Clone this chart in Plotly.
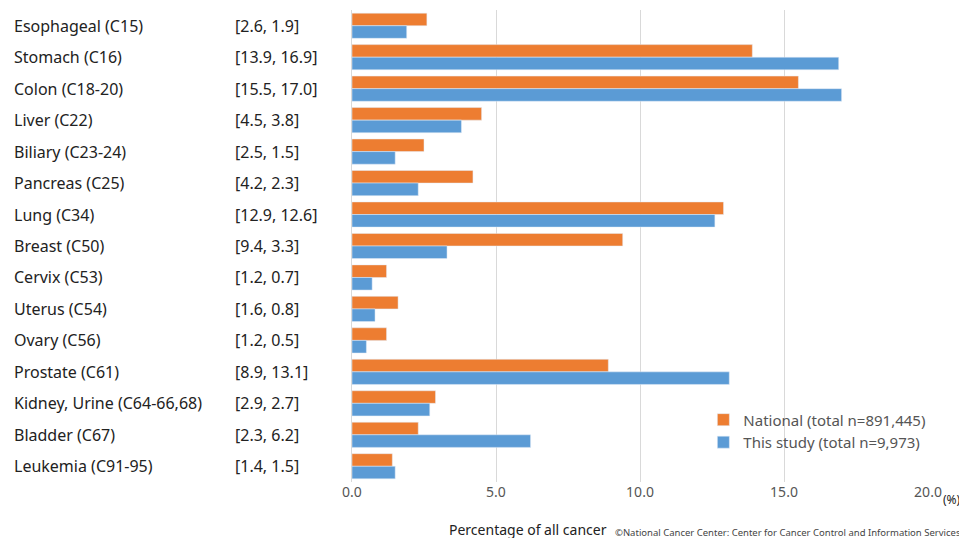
import plotly.graph_objects as go

sites = ["Esophageal (C15)", "Stomach (C16)", "Colon (C18-20)", "Liver (C22)",
         "Biliary (C23-24)", "Pancreas (C25)", "Lung (C34)", "Breast (C50)",
         "Cervix (C53)", "Uterus (C54)", "Ovary (C56)", "Prostate (C61)",
         "Kidney, Urine (C64-66,68)", "Bladder (C67)", "Leukemia (C91-95)"]
national = [2.6, 13.9, 15.5, 4.5, 2.5, 4.2, 12.9, 9.4, 1.2, 1.6, 1.2, 8.9, 2.9, 2.3, 1.4]
study = [1.9, 16.9, 17.0, 3.8, 1.5, 2.3, 12.6, 3.3, 0.7, 0.8, 0.5, 13.1, 2.7, 6.2, 1.5]
x_ticks = [0, 5, 10, 15, 20]

fig = go.Figure()
fig.add_trace(go.Bar(y=sites, x=national, orientation="h", name="National (total n=891,445)",
                     marker_color="#ED7D31", offsetgroup=0))
fig.add_trace(go.Bar(y=sites, x=study, orientation="h", name="This study (total n=9,973)",
                     marker_color="#5B9BD5", offsetgroup=1))

font = dict(family="Noto Sans, Arial, sans-serif", size=16, color="#222")
for s, a, b in zip(sites, national, study):
    fig.add_annotation(x=-0.59, xref="paper", y=s, yref="y", text=s, showarrow=False,
                       xanchor="left", font=font)
    fig.add_annotation(x=-0.207, xref="paper", y=s, yref="y", text=f"[{a:.1f}, {b:.1f}]",
                       showarrow=False, xanchor="left", font=font)

fig.add_annotation(x=1.022, xref="paper", y=-0.038, yref="paper", text="(%)", showarrow=False,
                   xanchor="left", yanchor="middle", font=dict(family="Noto Sans, Arial", size=12, color="#222"))
fig.add_annotation(x=0.305, xref="paper", y=-0.1, yref="paper", text="Percentage of all cancer",
                   showarrow=False, xanchor="center", yanchor="middle",
                   font=dict(family="Noto Sans, Arial", size=14, color="#222"))
fig.add_annotation(x=1.06, xref="paper", y=-0.106, yref="paper",
                   text="©National Cancer Center: Center for Cancer Control and Information Services",
                   showarrow=False, xanchor="right", yanchor="middle",
                   font=dict(family="Noto Sans, Arial", size=9.5, color="#444"))

fig.update_layout(
    width=967, height=538, barmode="group", bargap=0.2, bargroupgap=0,
    paper_bgcolor="white", plot_bgcolor="white",
    margin=dict(l=344, r=47, t=2, b=64),
    font=dict(family="Noto Sans, Arial, sans-serif", size=14, color="#444"),
    showlegend=True,
    legend=dict(x=0.61, y=0.05, xanchor="left", yanchor="bottom", traceorder="normal",
                font=dict(size=15, color="#555"), bgcolor="rgba(0,0,0,0)"),
    xaxis=dict(range=[0, 20], tickvals=x_ticks, ticktext=[f"{v:.1f}" for v in x_ticks],
               showgrid=True, gridcolor="#D9D9D9", zeroline=False,
               tickfont=dict(size=14, color="#555")),
    yaxis=dict(autorange="reversed", showticklabels=False, showgrid=False,
               showline=True, linecolor="#D9D9D9"),
)

fig.write_html("out.html")
